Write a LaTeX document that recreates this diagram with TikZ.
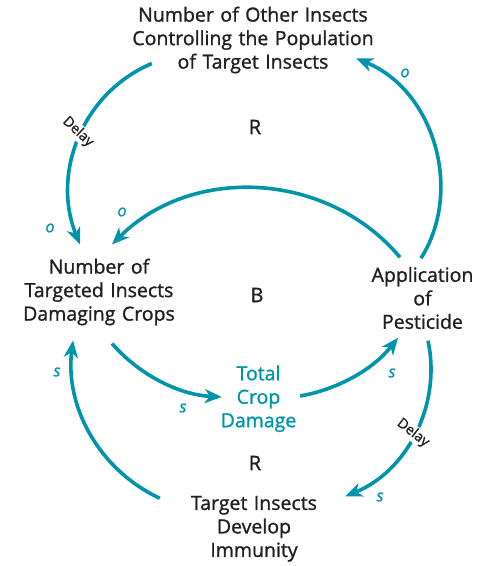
\documentclass[tikz,border=0pt]{standalone}
\usepackage{fontspec}
\setmainfont{Open Sans}[FakeBold=1.2]
\usetikzlibrary{arrows.meta}
\definecolor{loopteal}{RGB}{0,148,170}
\definecolor{inktext}{RGB}{35,31,32}

\begin{document}
\begin{tikzpicture}[x=1pt,y=1pt,
  main node/.style={align=center,inner sep=0pt,text=inktext,font=\fontsize{19.5}{23.5}\selectfont},
  loop mark/.style={text=inktext,font=\fontsize{20}{24}\selectfont},
  sign/.style={text=loopteal,font=\fontsize{16}{18}\selectfont\itshape},
  delay/.style={fill=white,inner sep=1pt,text=inktext,font=\fontsize{14}{16}\selectfont},
  link/.style={draw=loopteal,line width=3.6pt,-{Stealth[length=17pt,width=14pt,inset=5pt]}}]
  \useasboundingbox (0,0) rectangle (489,566);

  \node[main node,text width=250pt] (others) at (253,526) {Number of Other Insects\\Controlling the Population\\of Target Insects};
  \node[main node,text width=166pt] (targeted) at (99,274) {Number of\\Targeted Insects\\Damaging Crops};
  \node[main node,text width=110pt] (pesticide) at (422.5,268) {Application\\of\\Pesticide};
  \node[main node,text width=78pt,text=loopteal] (damage) at (258.5,167.3) {Total\\Crop\\Damage};
  \node[main node,text width=142pt] (immunity) at (254,37.2) {Target Insects\\Develop\\Immunity};

  \node[loop mark] (r1) at (255,439) {R};
  \node[loop mark] (b1) at (257,271) {B};
  \node[loop mark] (r2) at (255,103) {R};

  \path
    ([xshift=24pt,yshift=10pt]others.south west) edge[link,out=203,in=112] ([xshift=-19pt,yshift=14pt]targeted.north)
    ([xshift=-1.5pt,yshift=8.5pt]pesticide.north) edge[link,out=58,in=338] ([xshift=-22pt,yshift=15pt]others.south east)
    ([xshift=-22.5pt,yshift=9.5pt]pesticide.north) edge[link,out=130,in=45] ([xshift=13pt,yshift=14pt]targeted.north)
    ([xshift=13pt,yshift=-18pt]targeted.south) edge[link,out=311,in=177,looseness=0.89] ([xshift=2.5pt,yshift=1.7pt]damage.west)
    ([xshift=2.5pt,yshift=2.7pt]damage.east) edge[link,out=10,in=232,looseness=0.88] ([xshift=-24.5pt,yshift=-8.5pt]pesticide.south)
    ([xshift=5.5pt,yshift=-11.5pt]pesticide.south) edge[link,out=282,in=22,looseness=0.96] ([xshift=20pt,yshift=-0.5pt]immunity.north east)
    ([xshift=-23pt,yshift=-2.5pt]immunity.north west) edge[link,out=155,in=263,looseness=0.95] ([xshift=-26pt,yshift=-15pt]targeted.south);

  % delays sit on top of the links
  \node[delay,rotate=-43] (delay1) at (78,434) {Delay};
  \node[delay,rotate=-38] (delay2) at (413,133) {Delay};

  \node[sign] (o1) at (405,493) {o};
  \node[sign] (o2) at (50,338) {o};
  \node[sign] (o3) at (122,354) {o};
  \node[sign] (s1) at (57,194) {s};
  \node[sign] (s2) at (183,158) {s};
  \node[sign] (s3) at (392,193) {s};
  \node[sign] (s4) at (380,69) {s};
\end{tikzpicture}
\end{document}
